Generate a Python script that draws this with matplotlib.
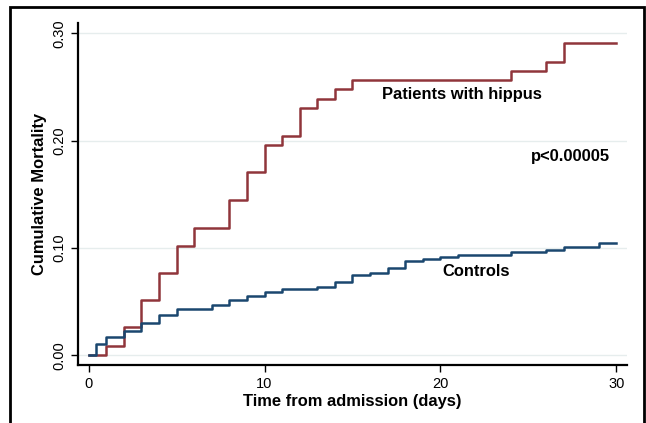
import numpy as np
import matplotlib.pyplot as plt
from matplotlib.patches import Rectangle

plt.rcParams['font.family'] = ['Liberation Sans', 'DejaVu Sans']

# step times (days) and cumulative mortality after each step
hippus_t = [0, 1, 2, 3, 4, 5, 6, 8, 9, 10, 11, 12, 13, 14, 15, 24, 26, 27, 30]
hippus_y = [0.0, 0.0087, 0.026, 0.0515, 0.0764, 0.102, 0.119, 0.145, 0.171,
            0.196, 0.2047, 0.230, 0.239, 0.248, 0.2563, 0.265, 0.2736, 0.2908, 0.2908]

ctrl_t = [0, 0.45, 1, 2, 3, 4, 5, 7, 8, 9, 10, 11, 13, 14, 15, 16, 17, 18, 19,
          20, 21, 24, 26, 27, 29, 30]
ctrl_y = [0.0, 0.0105, 0.0174, 0.023, 0.0298, 0.038, 0.043, 0.0466, 0.0515, 0.055,
          0.0593, 0.062, 0.0637, 0.068, 0.0744, 0.077, 0.081, 0.0879, 0.0897,
          0.0916, 0.0935, 0.0963, 0.0984, 0.1006, 0.1044, 0.1044]

xticks = [0, 10, 20, 30]
yticks = [0.0, 0.1, 0.2, 0.3]

fig = plt.figure(figsize=(6.46, 4.23), dpi=100)
ax = fig.add_axes([0.1207, 0.1371, 0.8499, 0.8085])

for y in yticks:
    ax.axhline(y, color='#e6eded', lw=1.0, zorder=0)

ax.step(hippus_t, hippus_y, where='post', color='#90353b', lw=1.8)
ax.step(ctrl_t, ctrl_y, where='post', color='#1a476f', lw=1.8)

ax.text(21.2, 0.2426, 'Patients with hippus', ha='center', va='center',
        fontsize=11.9, fontweight='bold')
ax.text(27.4, 0.1857, 'p<0.00005', ha='center', va='center',
        fontsize=11.9, fontweight='bold')
ax.text(22.05, 0.0779, 'Controls', ha='center', va='center',
        fontsize=11.9, fontweight='bold')

ax.set_xlim(-0.6, 30.6)
ax.set_ylim(-0.009, 0.3096)
ax.set_xticks(xticks)
ax.set_yticks(yticks)
ax.set_yticklabels(['%.2f' % v for v in yticks], rotation=90, va='center')
ax.tick_params(axis='both', labelsize=10.5, length=5, width=1.0, direction='out')

for s in ['top', 'right']:
    ax.spines[s].set_visible(False)
for s in ['left', 'bottom']:
    ax.spines[s].set_linewidth(1.6)

ax.set_xlabel('Time from admission (days)', fontsize=11.9, fontweight='bold', labelpad=2)
ax.set_ylabel('Cumulative Mortality', fontsize=11.9, fontweight='bold', labelpad=4)

# outer frame
fig.patches.append(Rectangle((10 / 646, -0.05), 634 / 646, 1 - 7 / 423 + 0.05,
                             transform=fig.transFigure, fill=False,
                             edgecolor='black', lw=2.0, clip_on=False))

plt.savefig('out.png', dpi=100)
